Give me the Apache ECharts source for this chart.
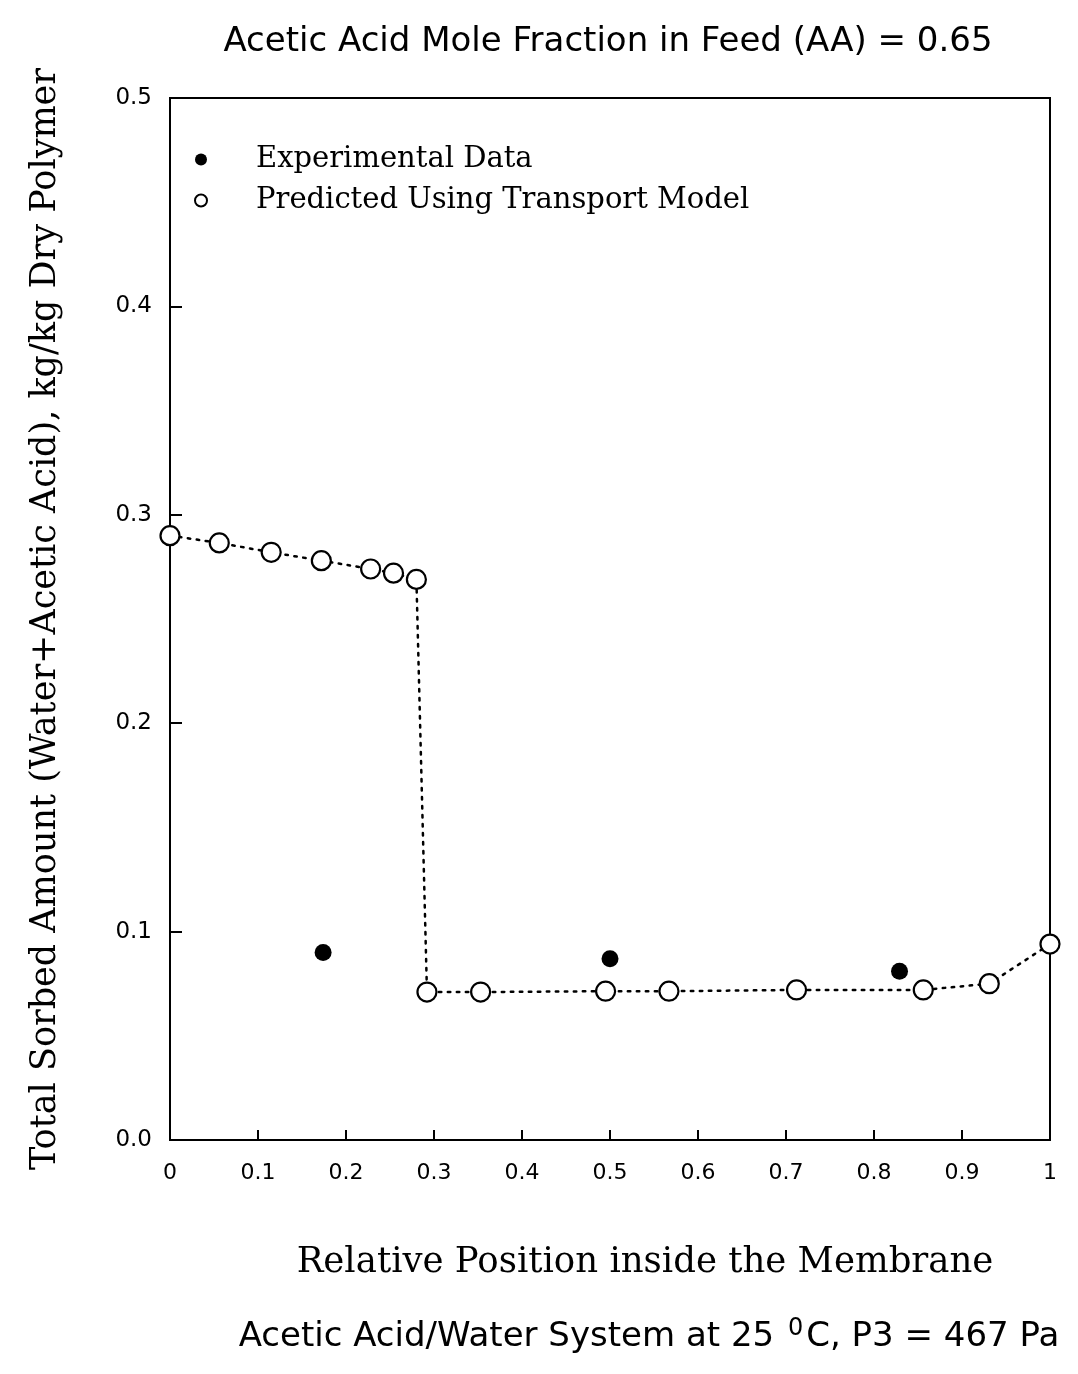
<!DOCTYPE html>
<html>
<head>
<meta charset="utf-8">
<title>Total sorbed amount across the membrane</title>
<script src="https://cdn.jsdelivr.net/npm/echarts@6/dist/echarts.min.js"></script>
<style>
  html, body { margin: 0; padding: 0; background: #fff; }
  #chart { width: 1078px; height: 1374px; }
</style>
</head>
<body>
<div id="chart"></div>
<script>
// Relative position inside the membrane (0 = feed side, 1 = permeate side)
var predictedX = [0, 0.056, 0.115, 0.172, 0.228, 0.254, 0.280, 0.292, 0.353, 0.495, 0.567, 0.712, 0.856, 0.931, 1.0];
// Total sorbed amount predicted by the transport model, kg/kg dry polymer
var predictedY = [0.290, 0.2865, 0.282, 0.278, 0.274, 0.272, 0.269, 0.071, 0.071, 0.0714, 0.0714, 0.072, 0.072, 0.075, 0.094];

// Measured sorbed amounts
var experimentalX = [0.174, 0.500, 0.829];
var experimentalY = [0.090, 0.087, 0.081];

var xTicks = [0, 0.1, 0.2, 0.3, 0.4, 0.5, 0.6, 0.7, 0.8, 0.9, 1];
var yTicks = [0.0, 0.1, 0.2, 0.3, 0.4, 0.5];

var SANS = '"DejaVu Sans", Arial, sans-serif';
var SERIF = '"DejaVu Serif", "Liberation Serif", serif';

function pairs(xs, ys) {
  return xs.map(function (x, i) { return [x, ys[i]]; });
}

var chart = echarts.init(document.getElementById('chart'), null, { renderer: 'canvas' });

chart.setOption({
  backgroundColor: '#ffffff',
  animation: false,
  title: [
    {
      text: 'Acetic Acid Mole Fraction in Feed (AA) = 0.65',
      left: 603, top: 20, textAlign: 'center',
      textStyle: { fontFamily: SANS, fontSize: 34, fontWeight: 'normal', color: '#000' }
    },
    {
      text: 'Relative Position inside the Membrane',
      left: 640, top: 1240, textAlign: 'center',
      textStyle: { fontFamily: SERIF, fontSize: 35.5, fontWeight: 'normal', color: '#000' }
    },
    {
      text: 'Acetic Acid/Water System at 25 {sup|0}C, P3 = 467 Pa',
      left: 644, top: 1312, textAlign: 'center',
      textStyle: {
        fontFamily: SANS, fontSize: 34, fontWeight: 'normal', color: '#000',
        rich: {
          sup: { fontFamily: SANS, fontSize: 24, color: '#000', verticalAlign: 'top', padding: [0, 3, 16, 3] }
        }
      }
    }
  ],
  legend: {
    orient: 'vertical',
    left: 189, top: 140,
    itemWidth: 12, itemHeight: 12,
    itemGap: 12,
    selectedMode: false,
    textStyle: {
      fontFamily: SERIF, fontSize: 29, color: '#000',
      padding: [0, 0, 0, 44]
    },
    data: [
      { name: 'Experimental Data', icon: 'circle', itemStyle: { color: '#000', borderWidth: 0, opacity: 1 } },
      { name: 'Predicted Using Transport Model', icon: 'circle',
        itemStyle: { color: '#fff', borderColor: '#000', borderWidth: 2, opacity: 1 } }
    ]
  },
  grid: {
    left: 170, top: 98, width: 880, height: 1042,
    show: true, borderColor: '#000', borderWidth: 2, backgroundColor: 'transparent'
  },
  xAxis: {
    type: 'value', min: 0, max: 1, interval: 0.1,
    axisLine: { show: true, lineStyle: { color: '#000', width: 2 } },
    axisTick: { show: true, inside: true, length: 10, lineStyle: { color: '#000', width: 2 } },
    splitLine: { show: false },
    axisLabel: {
      margin: 22, fontFamily: SANS, fontSize: 22, color: '#000',
      formatter: function (v) {
        var t = xTicks.filter(function (k) { return Math.abs(k - v) < 1e-9; })[0];
        if (t === undefined) return '';
        return (t === 0 || t === 1) ? String(t) : t.toFixed(1);
      }
    }
  },
  yAxis: {
    type: 'value', min: 0, max: 0.5, interval: 0.1,
    name: 'Total Sorbed Amount (Water+Acetic Acid), kg/kg Dry Polymer',
    nameLocation: 'middle', nameRotate: 90, nameGap: 107,
    nameTextStyle: { fontFamily: SERIF, fontSize: 35, color: '#000' },
    axisLine: { show: true, lineStyle: { color: '#000', width: 2 } },
    axisTick: { show: true, inside: true, length: 12, lineStyle: { color: '#000', width: 2 } },
    splitLine: { show: false },
    axisLabel: {
      margin: 18, fontFamily: SANS, fontSize: 23, color: '#000',
      formatter: function (v) {
        var t = yTicks.filter(function (k) { return Math.abs(k - v) < 1e-9; })[0];
        return t === undefined ? '' : t.toFixed(1);
      }
    }
  },
  series: [
    {
      name: 'Predicted Using Transport Model',
      type: 'line',
      data: pairs(predictedX, predictedY),
      symbol: 'circle', symbolSize: 19,
      lineStyle: { color: '#000', width: 2.5, type: [2.5, 6.5], cap: 'round', opacity: 1 },
      itemStyle: { color: '#fff', borderColor: '#000', borderWidth: 2.2, opacity: 1 },
      z: 2
    },
    {
      name: 'Experimental Data',
      type: 'scatter',
      data: pairs(experimentalX, experimentalY),
      symbol: 'circle', symbolSize: 17,
      itemStyle: { color: '#000', opacity: 1 },
      z: 3
    }
  ]
});
</script>
</body>
</html>
